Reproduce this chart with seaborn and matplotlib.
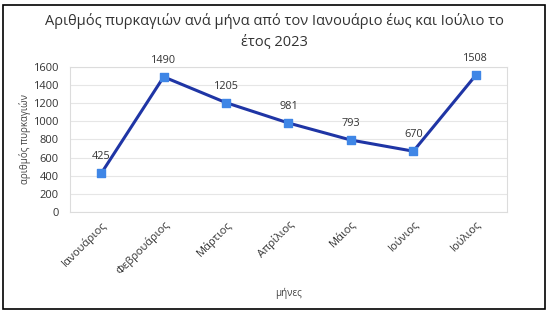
import matplotlib
matplotlib.use('Agg')
import matplotlib.pyplot as plt
import pandas as pd
import seaborn as sns
from matplotlib.patches import Rectangle

# Data
months = ['Ιανουάριος', 'Φεβρουάριος', 'Μάρτιος', 'Απρίλιος', 'Μάιος', 'Ιούνιος', 'Ιούλιος']
fires = [425, 1490, 1205, 981, 793, 670, 1508]
yticks = [0, 200, 400, 600, 800, 1000, 1200, 1400, 1600]

df = pd.DataFrame({'month': months, 'fires': fires})
df['pos'] = range(len(months))

sns.set_theme(style='white')
plt.rcParams['font.family'] = ['Open Sans', 'DejaVu Sans']

fig = plt.figure(figsize=(5.49, 3.14), dpi=100)
ax = fig.add_axes([0.1275, 0.325, 0.796, 0.462])

# line and square markers
sns.lineplot(data=df, x='pos', y='fires', ax=ax, color='#1f35a5', linewidth=2.2, zorder=3)
ax.scatter(df['pos'], df['fires'], marker='s', s=38, color='#3f86e6', zorder=4)

# value labels above points
for x, y in zip(df['pos'], df['fires']):
    ax.annotate(str(y), (x, y), xytext=(0, 8), textcoords='offset points',
                ha='center', va='bottom', fontsize=7.8, color='#333333')

ax.set_xlim(-0.5, len(months) - 0.5)
ax.set_ylim(0, 1600)
ax.set_yticks(yticks)
ax.set_yticklabels([str(t) for t in yticks], fontsize=8, color='#333333')
ax.set_xticks(df['pos'])
ax.set_xticklabels(months, rotation=45, ha='right', rotation_mode='anchor', fontsize=8, color='#333333')
ax.tick_params(axis='y', length=0, pad=8)
ax.tick_params(axis='x', length=0, pad=5)
ax.grid(axis='y', color='#e6e6e6', linewidth=0.8)
ax.set_axisbelow(True)
for s in ax.spines.values():
    s.set_color('#dcdcdc')
    s.set_linewidth(0.8)

ax.set_xlabel('μήνες', fontsize=7, color='#444444', labelpad=8)
ax.set_ylabel('αριθμός πυρκαγιών', fontsize=7, color='#444444', labelpad=2)

fig.suptitle('Αριθμός πυρκαγιών ανά μήνα από τον Ιανουάριο έως και Ιούλιο το\nέτος 2023',
             y=0.96, fontsize=10.5, color='#333333', linespacing=1.55)

# outer frame
fig.patches.append(Rectangle((0.006, 0.016), 0.987, 0.968, transform=fig.transFigure,
                             fill=False, edgecolor='black', linewidth=1.2))

plt.savefig('out.png', dpi=100)
